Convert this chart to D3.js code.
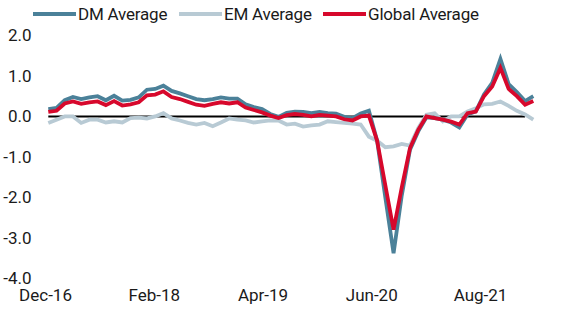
<!DOCTYPE html>
<html>
<head>
<meta charset="utf-8">
<script src="https://cdn.jsdelivr.net/npm/d3@7"></script>
<style>
  html, body { margin: 0; padding: 0; background: #fff; }
  svg { display: block; font-family: Roboto, "Noto Sans", sans-serif; }
</style>
</head>
<body>
<svg id="chart" width="565" height="325"></svg>
<script>
// monthly averages, Dec-16 .. Nov-21
const dmAverage = [
  0.18, 0.21, 0.40, 0.48, 0.43, 0.47, 0.50, 0.40, 0.51, 0.39,
  0.41, 0.47, 0.66, 0.68, 0.76, 0.63, 0.57, 0.50, 0.43, 0.40,
  0.43, 0.47, 0.44, 0.44, 0.30, 0.23, 0.18, 0.06, -0.01, 0.09,
  0.12, 0.11, 0.08, 0.11, 0.08, 0.07, -0.01, -0.04, 0.07, 0.14,
  -0.60, -2.00, -3.38, -1.95, -0.82, -0.37, -0.02, -0.04, -0.08, -0.15,
  -0.27, 0.05, 0.12, 0.54, 0.83, 1.42, 0.80, 0.60, 0.38, 0.50
];
const emAverage = [
  -0.16, -0.08, 0.00, 0.00, -0.16, -0.08, -0.08, -0.15, -0.12, -0.15,
  -0.04, -0.03, -0.05, 0.00, 0.08, -0.05, -0.10, -0.16, -0.20, -0.16,
  -0.24, -0.15, -0.05, -0.08, -0.10, -0.15, -0.12, -0.10, -0.10, -0.20,
  -0.18, -0.25, -0.22, -0.20, -0.12, -0.14, -0.16, -0.18, -0.20, -0.50,
  -0.60, -0.76, -0.74, -0.68, -0.72, -0.29, 0.04, 0.08, -0.12, 0.00,
  0.00, 0.12, 0.20, 0.30, 0.31, 0.37, 0.26, 0.14, 0.05, -0.08
];
const globalAverage = [
  0.11, 0.14, 0.32, 0.37, 0.31, 0.35, 0.37, 0.28, 0.38, 0.27,
  0.30, 0.35, 0.52, 0.54, 0.62, 0.48, 0.43, 0.36, 0.29, 0.26,
  0.31, 0.35, 0.32, 0.35, 0.22, 0.16, 0.10, 0.02, -0.04, 0.03,
  0.06, 0.04, 0.00, 0.04, 0.02, 0.00, -0.07, -0.10, 0.00, 0.02,
  -0.60, -1.70, -2.80, -1.75, -0.78, -0.33, 0.00, -0.04, -0.08, -0.13,
  -0.20, 0.08, 0.12, 0.50, 0.74, 1.20, 0.68, 0.50, 0.29, 0.38
];
const xLabels = ['Dec-16', 'Feb-18', 'Apr-19', 'Jun-20', 'Aug-21'];
const yTicks = [2, 1, 0, -1, -2, -3, -4];

const series = [
  { name: 'DM Average', values: dmAverage, color: '#4b8199' },
  { name: 'EM Average', values: emAverage, color: '#b8cad4' },
  { name: 'Global Average', values: globalAverage, color: '#d7082c' }
];

const svg = d3.select('#chart');
const n = dmAverage.length;

const x = d3.scaleLinear().domain([0, n - 1]).range([48.3, 533.3]);
const y = d3.scaleLinear().domain([-4, 2]).range([278.3, 35.5]);
const xl = d3.scalePoint().domain(xLabels).range([45, 480]);

// y axis labels
const yAxis = svg.append('g')
  .attr('transform', 'translate(31.5,0)')
  .call(d3.axisLeft(y).tickValues(yTicks).tickSize(0).tickPadding(0)
    .tickFormat(d => d.toFixed(1)));
yAxis.select('.domain').remove();
yAxis.selectAll('text')
  .attr('font-size', 17).attr('fill', '#1a1a1a')
  .attr('font-family', 'Roboto, sans-serif');

// x axis labels
const xAxis = svg.append('g')
  .attr('transform', 'translate(0,289)')
  .call(d3.axisBottom(xl).tickSize(0).tickPadding(0));
xAxis.select('.domain').remove();
xAxis.selectAll('text')
  .attr('font-size', 17).attr('fill', '#1a1a1a')
  .attr('font-family', 'Roboto, sans-serif');

// zero line
svg.append('line')
  .attr('x1', x(0)).attr('x2', x(n - 2))
  .attr('y1', y(0)).attr('y2', y(0))
  .attr('stroke', '#000').attr('stroke-width', 2);

const line = d3.line()
  .x((d, i) => x(i))
  .y(d => y(d));

// EM behind, then DM, Global on top
[series[1], series[0], series[2]].forEach(s => {
  svg.append('path')
    .datum(s.values)
    .attr('d', line)
    .attr('fill', 'none')
    .attr('stroke', s.color)
    .attr('stroke-width', 3.8)
    .attr('stroke-linejoin', 'miter');
});

// legend
const legendX = [33, 179, 323];
const legend = svg.append('g');
series.forEach((s, i) => {
  const g = legend.append('g').attr('transform', `translate(${legendX[i]},14)`);
  g.append('line')
    .attr('x1', 0).attr('x2', 43)
    .attr('y1', 0).attr('y2', 0)
    .attr('stroke', s.color).attr('stroke-width', 3.8);
  g.append('text')
    .attr('x', 45).attr('y', 0).attr('dy', '0.36em')
    .attr('font-size', 17).attr('fill', '#1a1a1a')
    .attr('letter-spacing', -0.2)
    .text(s.name);
});
</script>
</body>
</html>
